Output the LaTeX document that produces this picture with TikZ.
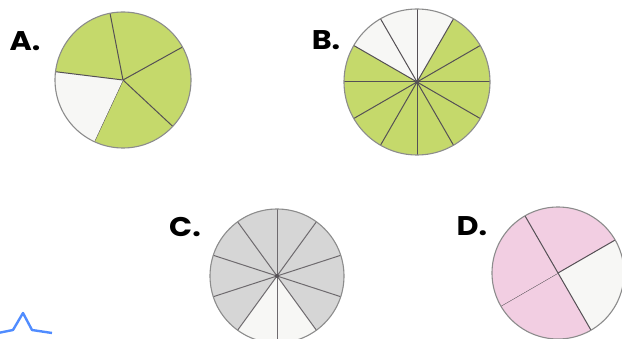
\documentclass[tikz,border=0pt]{standalone}
\usepackage{fontspec}
\setmainfont{Poppins}
\newfontfamily\labfont[FakeStretch=1.12]{Poppins}
\definecolor{pgreen}{RGB}{197,217,107}
\definecolor{pwhite}{RGB}{247,247,245}
\definecolor{pgray}{RGB}{214,214,214}
\definecolor{ppink}{RGB}{242,206,226}
\definecolor{pline}{RGB}{85,80,85}
\definecolor{pedge}{RGB}{140,140,140}
\definecolor{pblue}{RGB}{80,140,255}
\tikzset{
  lab/.style={font=\labfont\bfseries\fontsize{27}{29}\selectfont, inner sep=0pt},
  radial/.style={draw=pline, line width=1pt},
  rim/.style={draw=pedge, line width=1.1pt},
}
\begin{document}
\begin{tikzpicture}[x=1pt,y=1pt]
\useasboundingbox (0,0) rectangle (622,338);
\clip (0,0) rectangle (622,338);
% ---------- A ----------
\coordinate (ca) at (123,258);
\foreach \s/\col in {-115/pgreen,-43/pgreen,29/pgreen,101/pgreen,173/pwhite}{
  \fill[\col] (ca) -- ++(\s:68) arc[start angle=\s, end angle=\s+72, radius=68] -- cycle;
  \draw[radial] (ca) -- ++(\s:68);
}
\draw[rim] (ca) circle (68);
% ---------- B ----------
\coordinate (cb) at (417,256);
\foreach \s in {0,30,...,330}{
  \pgfmathsetmacro\colB{(\s>=60 && \s<150) ? 1 : 0}
  \ifdim\colB pt>0.5pt
    \fill[pwhite] (cb) -- ++(\s:73) arc[start angle=\s, end angle=\s+30, radius=73] -- cycle;
  \else
    \fill[pgreen] (cb) -- ++(\s:73) arc[start angle=\s, end angle=\s+30, radius=73] -- cycle;
  \fi
}
\foreach \s in {0,30,...,330}{ \draw[radial] (cb) -- ++(\s:73); }
\fill[pline] (cb) circle (2.2);
\draw[rim] (cb) circle (73);
% ---------- C ----------
\coordinate (cc) at (277,62);
\foreach \s in {-162,-126,...,162}{
  \pgfmathsetmacro\colC{(\s>=-126 && \s<-54) ? 1 : 0}
  \ifdim\colC pt>0.5pt
    \fill[pwhite] (cc) -- ++(\s:67) arc[start angle=\s, end angle=\s+36, radius=67] -- cycle;
  \else
    \fill[pgray] (cc) -- ++(\s:67) arc[start angle=\s, end angle=\s+36, radius=67] -- cycle;
  \fi
}
\foreach \s in {-162,-126,...,162}{ \draw[radial, draw=pline!85] (cc) -- ++(\s:67); }
\fill[pline] (cc) circle (2);
\draw[rim] (cc) circle (67);
% ---------- D ----------
\coordinate (cd) at (558,65);
\foreach \s/\col in {-150/ppink,-60/pwhite,30/ppink,120/ppink}{
  \fill[\col] (cd) -- ++(\s:66) arc[start angle=\s, end angle=\s+90, radius=66] -- cycle;
  \draw[radial] (cd) -- ++(\s:66);
}
\draw[rim] (cd) circle (66);
% ---------- labels ----------
\node[lab] (la) at (25,297) {A.};
\node[lab] (lb) at (326,298) {B.};
\node[lab] (lc) at (185,111) {C.};
\node[lab] (ld) at (472,112) {D.};
% ---------- blue mark ----------
\draw[pblue, line width=2.4pt, line join=round] (-2,5) -- (13,8) -- (23,25) -- (32,8) -- (52,5);
\end{tikzpicture}
\end{document}
